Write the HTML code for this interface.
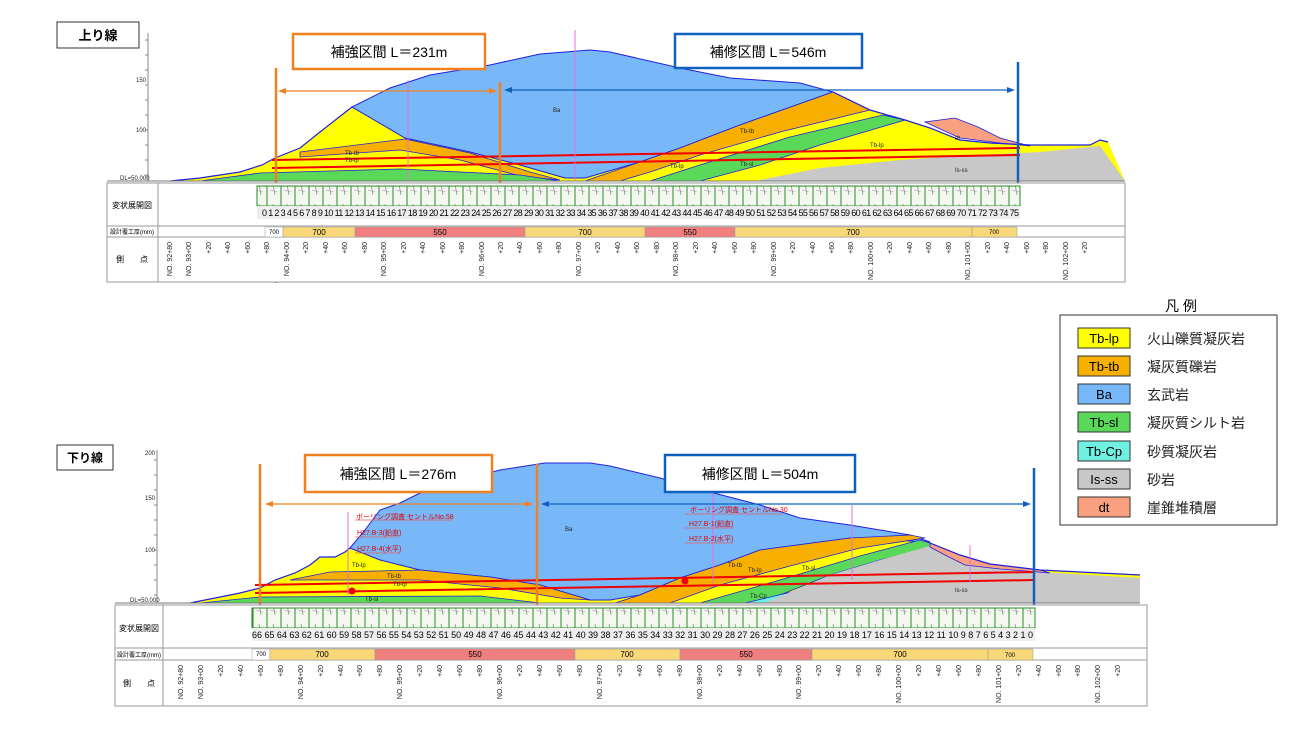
<!DOCTYPE html>
<html><head><meta charset="utf-8"><style>
html,body{margin:0;padding:0;background:#fff}
svg{display:block}
text{font-family:"Liberation Sans","Noto Sans CJK JP",sans-serif}
.st text{font-size:7px;fill:#222;text-anchor:end}
.lb{font-size:14px;fill:#222}
.sm{font-size:6px;fill:#222}
.rd{font-size:7px;fill:#e00000}
</style></head><body>
<svg width="1300" height="756" viewBox="0 0 1300 756" xmlns="http://www.w3.org/2000/svg">
<defs>
<pattern id="strip" width="14" height="20" patternUnits="userSpaceOnUse">
<rect width="14" height="20" fill="#f4f8f0"/>
<line x1="1" y1="0" x2="1" y2="20" stroke="#2a8a2a" stroke-width="1"/>
<line x1="7" y1="4" x2="9" y2="15" stroke="#6ab06a" stroke-width="0.8"/>
<line x1="4" y1="10" x2="11" y2="12" stroke="#c080c0" stroke-width="0.6"/>
</pattern>
</defs>

<!-- ============ TOP PANEL ============ -->
<rect x="57" y="22" width="82" height="26" fill="#fff" stroke="#333" stroke-width="1"/>
<text x="98" y="40" text-anchor="middle" style="font-size:13px;font-weight:bold">上り線</text>
<line x1="148" y1="33" x2="148" y2="181" stroke="#888"/>
<g stroke="#888"><line x1="145" y1="40" x2="148" y2="40"/><line x1="145" y1="55" x2="148" y2="55"/><line x1="145" y1="70" x2="148" y2="70"/><line x1="145" y1="85" x2="148" y2="85"/><line x1="145" y1="100" x2="148" y2="100"/><line x1="145" y1="115" x2="148" y2="115"/><line x1="145" y1="130" x2="148" y2="130"/><line x1="145" y1="145" x2="148" y2="145"/><line x1="145" y1="160" x2="148" y2="160"/><line x1="145" y1="175" x2="148" y2="175"/></g>
<text x="136" y="82" class="sm">150</text><text x="136" y="132" class="sm">100</text><text x="120" y="180" class="sm">DL=50.000</text>

<!-- yellow base -->
<polygon fill="#ffff00" points="170,181 200,178 240,172 262,165 275,158 300,148 320,132 352,107 390,88 430,75 490,65 540,54 590,50 610,52 680,68 730,78 800,83 833,92 870,110 905,120 930,128 960,140 990,143 1030,145 1090,145 1100,140 1108,142 1125,181"/>
<!-- Ba -->
<polygon fill="#78b8f8" stroke="#2020e0" stroke-width="1" points="352,107 390,88 430,75 490,65 540,54 590,50 610,52 680,68 730,78 800,83 833,92 740,125 680,148 640,162 585,178 565,178 520,165 470,152 405,138"/>
<!-- left orange band -->
<polygon fill="#f8b000" stroke="#2020e0" stroke-width="0.8" points="300,152 405,139 470,153 530,172 560,180 520,176 460,160 400,150 300,157"/>
<!-- right orange -->
<polygon fill="#f8b000" stroke="#2020e0" stroke-width="0.8" points="585,181 640,162 680,148 740,125 833,92 870,110 780,132 700,155 650,172 620,181"/>
<!-- right green -->
<polygon fill="#5ad85a" stroke="#2020e0" stroke-width="0.8" points="650,181 700,165 790,137 883,115 905,120 820,145 760,165 700,181"/>
<!-- left green -->
<polygon fill="#5ad85a" stroke="#2020e0" stroke-width="0.8" points="200,181 260,173 400,169 520,175 560,181"/>
<!-- grey -->
<polygon fill="#c8c8c8" points="755,181 820,168 900,160 960,156 1040,152 1100,146 1125,181"/>
<!-- dt -->
<polygon fill="#f8a080" stroke="#2020e0" stroke-width="0.8" points="925,122 960,138 1000,143 1030,146 1000,138 978,127 955,118"/>
<polyline fill="none" stroke="#2020e0" stroke-width="1.2" points="170,181 200,178 240,172 262,165 275,158 300,148 320,132 352,107"/>
<polyline fill="none" stroke="#2020e0" stroke-width="1.2" points="833,92 870,110 905,120 930,128 960,140 990,143 1030,145 1090,145 1100,140 1108,142"/>
<!-- red lines -->
<line x1="272" y1="160" x2="1020" y2="148" stroke="#f00000" stroke-width="2"/>
<line x1="272" y1="168" x2="1020" y2="155" stroke="#f00000" stroke-width="2"/>
<line x1="575" y1="30" x2="575" y2="180" stroke="#e070e0" stroke-width="1"/>
<line x1="408" y1="80" x2="408" y2="180" stroke="#e070e0" stroke-width="1"/>
<text x="553" y="112" class="sm">Ba</text><text x="740" y="133" class="sm">Tb-tb</text><text x="870" y="147" class="sm">Tb-lp</text><text x="955" y="172" class="sm">Is-ss</text><text x="955" y="140" class="sm">dt</text><text x="345" y="162" class="sm">Tb-lp</text><text x="345" y="155" class="sm">Tb-tb</text><text x="670" y="168" class="sm">Tb-lp</text><text x="740" y="166" class="sm">Tb-sl</text>

<!-- boxes & arrows -->
<rect x="293" y="34" width="192" height="35" fill="#fff" stroke="#f08020" stroke-width="2.5"/>
<text x="389" y="57" text-anchor="middle" style="font-size:14px">補強区間  L＝231m</text>
<rect x="675" y="34" width="187" height="34" fill="#fff" stroke="#1060c0" stroke-width="2.5"/>
<text x="768" y="57" text-anchor="middle" style="font-size:14px">補修区間  L＝546m</text>
<line x1="276" y1="68" x2="276" y2="283" stroke="#f08020" stroke-width="2.5"/>
<line x1="500" y1="82" x2="500" y2="230" stroke="#f08020" stroke-width="2.5"/>
<line x1="1018" y1="62" x2="1018" y2="280" stroke="#1060c0" stroke-width="2.5"/>
<line x1="282" y1="91" x2="494" y2="91" stroke="#f08020" stroke-width="1.3"/>
<polygon points="278,91 286,88 286,94" fill="#f08020"/><polygon points="497,91 489,88 489,94" fill="#f08020"/>
<line x1="508" y1="90" x2="1012" y2="90" stroke="#1060c0" stroke-width="1.3"/>
<polygon points="504,90 512,87 512,93" fill="#1060c0"/><polygon points="1015,90 1007,87 1007,93" fill="#1060c0"/>

<!-- table top -->
<rect x="107" y="183" width="1018" height="99" fill="#fff" stroke="#999" stroke-width="1"/>
<line x1="158" y1="183" x2="158" y2="282" stroke="#999"/>
<line x1="107" y1="226" x2="1125" y2="226" stroke="#999"/>
<line x1="107" y1="237" x2="1125" y2="237" stroke="#999"/>
<line x1="107" y1="181" x2="1125" y2="181" stroke="#777"/>
<text x="132" y="208" text-anchor="middle" style="font-size:8px">変状展開図</text>
<text x="132" y="234" text-anchor="middle" style="font-size:6px">設計覆工厚(mm)</text>
<text x="132" y="262" text-anchor="middle" style="font-size:8px">側　　点</text>
<rect x="257" y="186" width="763" height="20" fill="url(#strip)" stroke="#2a8a2a"/>
<rect x="257" y="206" width="763" height="13" fill="#eee"/>
<text x="262" y="216" textLength="757" lengthAdjust="spacing" style="font-size:9px">0 1 2 3 4 5 6 7 8 9 10 11 12 13 14 15 16 17 18 19 20 21 22 23 24 25 26 27 28 29 30 31 32 33 34 35 36 37 38 39 40 41 42 43 44 45 46 47 48 49 50 51 52 53 54 55 56 57 58 59 60 61 62 63 64 65 66 67 68 69 70 71 72 73 74 75</text>
<rect x="265" y="227" width="18" height="10" fill="#fff" stroke="#999" stroke-width="0.5"/>
<rect x="283" y="227" width="72" height="10" fill="#f8d878" stroke="#999" stroke-width="0.5"/>
<rect x="355" y="227" width="170" height="10" fill="#f08080" stroke="#999" stroke-width="0.5"/>
<rect x="525" y="227" width="120" height="10" fill="#f8d878" stroke="#999" stroke-width="0.5"/>
<rect x="645" y="227" width="90" height="10" fill="#f08080" stroke="#999" stroke-width="0.5"/>
<rect x="735" y="227" width="237" height="10" fill="#f8d878" stroke="#999" stroke-width="0.5"/>
<rect x="972" y="227" width="45" height="10" fill="#f8d878" stroke="#999" stroke-width="0.5"/>
<g style="font-size:8px" text-anchor="middle"><text x="319" y="235">700</text><text x="440" y="235">550</text><text x="585" y="235">700</text><text x="690" y="235">550</text><text x="853" y="235">700</text><text x="994" y="234" style="font-size:6px">700</text><text x="274" y="234" style="font-size:6px">700</text></g>

<g class="st">
<text transform="translate(172,242) rotate(-90)">NO. 92+80</text><text transform="translate(191,242) rotate(-90)">NO. 93+00</text><text transform="translate(211,242) rotate(-90)">+20</text><text transform="translate(230,242) rotate(-90)">+40</text><text transform="translate(250,242) rotate(-90)">+60</text><text transform="translate(269,242) rotate(-90)">+80</text><text transform="translate(289,242) rotate(-90)">NO. 94+00</text><text transform="translate(308,242) rotate(-90)">+20</text><text transform="translate(328,242) rotate(-90)">+40</text><text transform="translate(347,242) rotate(-90)">+60</text><text transform="translate(367,242) rotate(-90)">+80</text><text transform="translate(386,242) rotate(-90)">NO. 95+00</text><text transform="translate(406,242) rotate(-90)">+20</text><text transform="translate(425,242) rotate(-90)">+40</text><text transform="translate(445,242) rotate(-90)">+60</text><text transform="translate(464,242) rotate(-90)">+80</text><text transform="translate(484,242) rotate(-90)">NO. 96+00</text><text transform="translate(503,242) rotate(-90)">+20</text><text transform="translate(522,242) rotate(-90)">+40</text><text transform="translate(542,242) rotate(-90)">+60</text><text transform="translate(561,242) rotate(-90)">+80</text><text transform="translate(581,242) rotate(-90)">NO. 97+00</text><text transform="translate(600,242) rotate(-90)">+20</text><text transform="translate(620,242) rotate(-90)">+40</text><text transform="translate(639,242) rotate(-90)">+60</text><text transform="translate(659,242) rotate(-90)">+80</text><text transform="translate(678,242) rotate(-90)">NO. 98+00</text><text transform="translate(698,242) rotate(-90)">+20</text><text transform="translate(717,242) rotate(-90)">+40</text><text transform="translate(737,242) rotate(-90)">+60</text><text transform="translate(756,242) rotate(-90)">+80</text><text transform="translate(776,242) rotate(-90)">NO. 99+00</text><text transform="translate(795,242) rotate(-90)">+20</text><text transform="translate(815,242) rotate(-90)">+40</text><text transform="translate(834,242) rotate(-90)">+60</text><text transform="translate(853,242) rotate(-90)">+80</text><text transform="translate(873,242) rotate(-90)">NO. 100+00</text><text transform="translate(892,242) rotate(-90)">+20</text><text transform="translate(912,242) rotate(-90)">+40</text><text transform="translate(931,242) rotate(-90)">+60</text><text transform="translate(951,242) rotate(-90)">+80</text><text transform="translate(970,242) rotate(-90)">NO. 101+00</text><text transform="translate(990,242) rotate(-90)">+20</text><text transform="translate(1009,242) rotate(-90)">+40</text><text transform="translate(1029,242) rotate(-90)">+60</text><text transform="translate(1048,242) rotate(-90)">+80</text><text transform="translate(1068,242) rotate(-90)">NO. 102+00</text><text transform="translate(1087,242) rotate(-90)">+20</text>
</g>

<!-- ============ LEGEND ============ -->
<text x="1181" y="311" text-anchor="middle" style="font-size:14px">凡 例</text>
<rect x="1060" y="315" width="217" height="210" fill="#fff" stroke="#333" stroke-width="1"/>
<g stroke="#333" stroke-width="1">
<rect x="1078" y="328" width="52" height="20" fill="#ffff00"/>
<rect x="1078" y="356" width="52" height="20" fill="#f8b000"/>
<rect x="1078" y="384" width="52" height="20" fill="#78b8f8"/>
<rect x="1078" y="412" width="52" height="20" fill="#5ad85a"/>
<rect x="1078" y="441" width="52" height="20" fill="#70f0e0"/>
<rect x="1078" y="469" width="52" height="20" fill="#c8c8c8"/>
<rect x="1078" y="497" width="52" height="20" fill="#f8a080"/>
</g>
<g style="font-size:13px" text-anchor="middle"><text x="1104" y="343">Tb-lp</text><text x="1104" y="371">Tb-tb</text><text x="1104" y="399">Ba</text><text x="1104" y="427">Tb-sl</text><text x="1104" y="456">Tb-Cp</text><text x="1104" y="484">Is-ss</text><text x="1104" y="512">dt</text></g>
<g class="lb"><text x="1147" y="344">火山礫質凝灰岩</text><text x="1147" y="372">凝灰質礫岩</text><text x="1147" y="400">玄武岩</text><text x="1147" y="428">凝灰質シルト岩</text><text x="1147" y="457">砂質凝灰岩</text><text x="1147" y="485">砂岩</text><text x="1147" y="513">崖錐堆積層</text></g>

<!-- ============ BOTTOM PANEL ============ -->
<rect x="57" y="445" width="56" height="25" fill="#fff" stroke="#333" stroke-width="1"/>
<text x="85" y="462" text-anchor="middle" style="font-size:12px;font-weight:bold">下り線</text>
<line x1="157" y1="450" x2="157" y2="603" stroke="#888"/>
<g stroke="#888"><line x1="154" y1="460" x2="157" y2="460"/><line x1="154" y1="475" x2="157" y2="475"/><line x1="154" y1="490" x2="157" y2="490"/><line x1="154" y1="505" x2="157" y2="505"/><line x1="154" y1="520" x2="157" y2="520"/><line x1="154" y1="535" x2="157" y2="535"/><line x1="154" y1="550" x2="157" y2="550"/><line x1="154" y1="565" x2="157" y2="565"/><line x1="154" y1="580" x2="157" y2="580"/><line x1="154" y1="595" x2="157" y2="595"/></g>
<text x="145" y="455" class="sm">200</text><text x="145" y="500" class="sm">150</text><text x="145" y="552" class="sm">100</text><text x="130" y="602" class="sm">DL=50.000</text>

<polygon fill="#ffff00" points="190,603 215,598 240,593 260,588 275,580 295,573 310,565 320,557 335,557 345,552 350,548 365,530 380,510 400,503 420,493 470,478 500,470 545,463 590,463 610,466 660,478 710,492 760,505 800,518 850,525 880,530 910,535 930,543 960,555 990,564 1040,570 1140,575 1140,603"/>
<polygon fill="#78b8f8" stroke="#2020e0" stroke-width="1" points="350,548 365,530 380,510 400,503 420,493 470,478 500,470 545,463 590,463 610,466 660,478 710,492 760,505 800,518 850,525 880,530 910,535 930,542 850,538 760,550 720,565 680,578 640,595 610,600 590,600 540,585 490,577 420,570 380,560"/>
<polygon fill="#f8b000" stroke="#2020e0" stroke-width="0.8" points="290,580 330,572 420,570 490,577 540,585 590,600 560,598 500,588 420,580 330,580"/>
<polygon fill="#f8b000" stroke="#2020e0" stroke-width="0.8" points="615,603 640,595 680,578 720,565 760,550 850,538 910,535 925,538 860,548 790,566 720,585 670,603"/>
<polygon fill="#5ad85a" stroke="#2020e0" stroke-width="0.8" points="700,603 780,580 860,556 920,540 930,543 930,548 880,560 830,575 760,603"/>
<polygon fill="#70f0e0" stroke="#2020e0" stroke-width="0.8" points="745,603 800,590 830,575 770,603"/>
<polygon fill="#c8c8c8" points="765,603 830,575 880,560 930,546 950,556 990,566 1040,572 1140,578 1140,603"/>
<polygon fill="#f8a080" stroke="#2020e0" stroke-width="0.8" points="930,543 960,555 990,564 1040,570 1050,573 1000,569 965,565 945,555 930,547"/>
<polygon fill="#5ad85a" stroke="#2020e0" stroke-width="0.8" points="200,603 260,597 480,596 540,603"/>
<polyline fill="none" stroke="#2020e0" stroke-width="1.2" points="190,603 215,598 240,593 260,588 275,580 295,573 310,565 320,557 335,557 345,552 350,548"/>
<polyline fill="none" stroke="#2020e0" stroke-width="1.2" points="930,543 960,555 990,564 1040,570 1140,575"/>
<line x1="255" y1="585" x2="1035" y2="572" stroke="#f00000" stroke-width="2"/>
<line x1="255" y1="593" x2="1035" y2="580" stroke="#f00000" stroke-width="2"/>
<circle cx="352" cy="591" r="3.5" fill="#f00000"/><circle cx="685" cy="581" r="3.5" fill="#f00000"/>
<g stroke="#e070e0" stroke-width="1"><line x1="348" y1="512" x2="348" y2="595"/><line x1="713" y1="493" x2="713" y2="583"/><line x1="852" y1="505" x2="852" y2="580"/><line x1="970" y1="545" x2="970" y2="582"/></g>
<g stroke="#e06060" stroke-width="0.8"><line x1="355" y1="520" x2="452" y2="520"/><line x1="355" y1="537" x2="398" y2="537"/><line x1="355" y1="553" x2="400" y2="553"/><line x1="685" y1="514" x2="783" y2="514"/><line x1="685" y1="528" x2="733" y2="528"/><line x1="685" y1="543" x2="733" y2="543"/></g>
<text x="356" y="519" class="rd">ボーリング調査 セントルNo.58</text>
<text x="357" y="535" class="rd">H27.B-3(鉛直)</text><text x="357" y="551" class="rd">H27.B-4(水平)</text>
<text x="690" y="512" class="rd">ボーリング調査 セントルNo.30</text>
<text x="689" y="526" class="rd">H27.B-1(鉛直)</text><text x="689" y="541" class="rd">H27.B-2(水平)</text>
<text x="565" y="531" class="sm">Ba</text><text x="352" y="567" class="sm">Tb-lp</text><text x="387" y="578" class="sm">Tb-tb</text><text x="393" y="586" class="sm">Tb-lp</text><text x="365" y="601" class="sm">Tb-sl</text><text x="728" y="567" class="sm">Tb-tb</text><text x="748" y="572" class="sm">Tb-lp</text><text x="802" y="570" class="sm">Tb-sl</text><text x="750" y="598" class="sm">Tb-Cp</text><text x="955" y="592" class="sm">Is-ss</text>

<rect x="305" y="455" width="187" height="37" fill="#fff" stroke="#f08020" stroke-width="2.5"/>
<text x="398" y="479" text-anchor="middle" style="font-size:14px">補強区間  L＝276m</text>
<rect x="665" y="455" width="190" height="37" fill="#fff" stroke="#1060c0" stroke-width="2.5"/>
<text x="760" y="479" text-anchor="middle" style="font-size:14px">補修区間  L＝504m</text>
<line x1="260" y1="464" x2="260" y2="605" stroke="#f08020" stroke-width="2.5"/>
<line x1="537" y1="464" x2="537" y2="605" stroke="#f08020" stroke-width="2.5"/>
<line x1="1034" y1="468" x2="1034" y2="612" stroke="#1060c0" stroke-width="2.5"/>
<line x1="268" y1="504" x2="530" y2="504" stroke="#f08020" stroke-width="1.3"/>
<polygon points="265,504 273,501 273,507" fill="#f08020"/><polygon points="533,504 525,501 525,507" fill="#f08020"/>
<line x1="545" y1="504" x2="1028" y2="504" stroke="#1060c0" stroke-width="1.3"/>
<polygon points="541,504 549,501 549,507" fill="#1060c0"/><polygon points="1031,504 1023,501 1023,507" fill="#1060c0"/>

<rect x="115" y="605" width="1032" height="101" fill="#fff" stroke="#999" stroke-width="1"/>
<line x1="163" y1="605" x2="163" y2="706" stroke="#999"/>
<line x1="115" y1="648" x2="1147" y2="648" stroke="#999"/>
<line x1="115" y1="660" x2="1147" y2="660" stroke="#999"/>
<line x1="115" y1="603" x2="1140" y2="603" stroke="#777"/>
<text x="139" y="631" text-anchor="middle" style="font-size:8px">変状展開図</text>
<text x="139" y="657" text-anchor="middle" style="font-size:6px">設計覆工厚(mm)</text>
<text x="139" y="686" text-anchor="middle" style="font-size:8px">側　　点</text>
<rect x="252" y="608" width="783" height="20" fill="url(#strip)" stroke="#2a8a2a"/>
<rect x="252" y="628" width="783" height="13" fill="#eee"/>
<text x="252" y="638" textLength="781" lengthAdjust="spacing" style="font-size:9px">66 65 64 63 62 61 60 59 58 57 56 55 54 53 52 51 50 49 48 47 46 45 44 43 42 41 40 39 38 37 36 35 34 33 32 31 30 29 28 27 26 25 24 23 22 21 20 19 18 17 16 15 14 13 12 11 10 9 8 7 6 5 4 3 2 1 0</text>
<rect x="252" y="649" width="18" height="11" fill="#fff" stroke="#999" stroke-width="0.5"/>
<rect x="270" y="649" width="105" height="11" fill="#f8d878" stroke="#999" stroke-width="0.5"/>
<rect x="375" y="649" width="200" height="11" fill="#f08080" stroke="#999" stroke-width="0.5"/>
<rect x="575" y="649" width="105" height="11" fill="#f8d878" stroke="#999" stroke-width="0.5"/>
<rect x="680" y="649" width="132" height="11" fill="#f08080" stroke="#999" stroke-width="0.5"/>
<rect x="812" y="649" width="176" height="11" fill="#f8d878" stroke="#999" stroke-width="0.5"/>
<rect x="988" y="649" width="45" height="11" fill="#f8d878" stroke="#999" stroke-width="0.5"/>
<g style="font-size:8px" text-anchor="middle"><text x="322" y="657">700</text><text x="475" y="657">550</text><text x="627" y="657">700</text><text x="746" y="657">550</text><text x="900" y="657">700</text><text x="1010" y="657" style="font-size:6px">700</text><text x="261" y="656" style="font-size:6px">700</text></g>

<g class="st">
<text transform="translate(183,665) rotate(-90)">NO. 92+80</text><text transform="translate(203,665) rotate(-90)">NO. 93+00</text><text transform="translate(223,665) rotate(-90)">+20</text><text transform="translate(243,665) rotate(-90)">+40</text><text transform="translate(263,665) rotate(-90)">+60</text><text transform="translate(283,665) rotate(-90)">+80</text><text transform="translate(303,665) rotate(-90)">NO. 94+00</text><text transform="translate(323,665) rotate(-90)">+20</text><text transform="translate(343,665) rotate(-90)">+40</text><text transform="translate(362,665) rotate(-90)">+60</text><text transform="translate(382,665) rotate(-90)">+80</text><text transform="translate(402,665) rotate(-90)">NO. 95+00</text><text transform="translate(422,665) rotate(-90)">+20</text><text transform="translate(442,665) rotate(-90)">+40</text><text transform="translate(462,665) rotate(-90)">+60</text><text transform="translate(482,665) rotate(-90)">+80</text><text transform="translate(502,665) rotate(-90)">NO. 96+00</text><text transform="translate(522,665) rotate(-90)">+20</text><text transform="translate(542,665) rotate(-90)">+40</text><text transform="translate(562,665) rotate(-90)">+60</text><text transform="translate(582,665) rotate(-90)">+80</text><text transform="translate(602,665) rotate(-90)">NO. 97+00</text><text transform="translate(622,665) rotate(-90)">+20</text><text transform="translate(642,665) rotate(-90)">+40</text><text transform="translate(662,665) rotate(-90)">+60</text><text transform="translate(682,665) rotate(-90)">+80</text><text transform="translate(702,665) rotate(-90)">NO. 98+00</text><text transform="translate(722,665) rotate(-90)">+20</text><text transform="translate(742,665) rotate(-90)">+40</text><text transform="translate(762,665) rotate(-90)">+60</text><text transform="translate(782,665) rotate(-90)">+80</text><text transform="translate(801,665) rotate(-90)">NO. 99+00</text><text transform="translate(821,665) rotate(-90)">+20</text><text transform="translate(841,665) rotate(-90)">+40</text><text transform="translate(861,665) rotate(-90)">+60</text><text transform="translate(881,665) rotate(-90)">+80</text><text transform="translate(901,665) rotate(-90)">NO. 100+00</text><text transform="translate(921,665) rotate(-90)">+20</text><text transform="translate(941,665) rotate(-90)">+40</text><text transform="translate(961,665) rotate(-90)">+60</text><text transform="translate(981,665) rotate(-90)">+80</text><text transform="translate(1001,665) rotate(-90)">NO. 101+00</text><text transform="translate(1021,665) rotate(-90)">+20</text><text transform="translate(1041,665) rotate(-90)">+40</text><text transform="translate(1061,665) rotate(-90)">+60</text><text transform="translate(1080,665) rotate(-90)">+80</text><text transform="translate(1100,665) rotate(-90)">NO. 102+00</text><text transform="translate(1120,665) rotate(-90)">+20</text>
</g>
</svg>
</body></html>
